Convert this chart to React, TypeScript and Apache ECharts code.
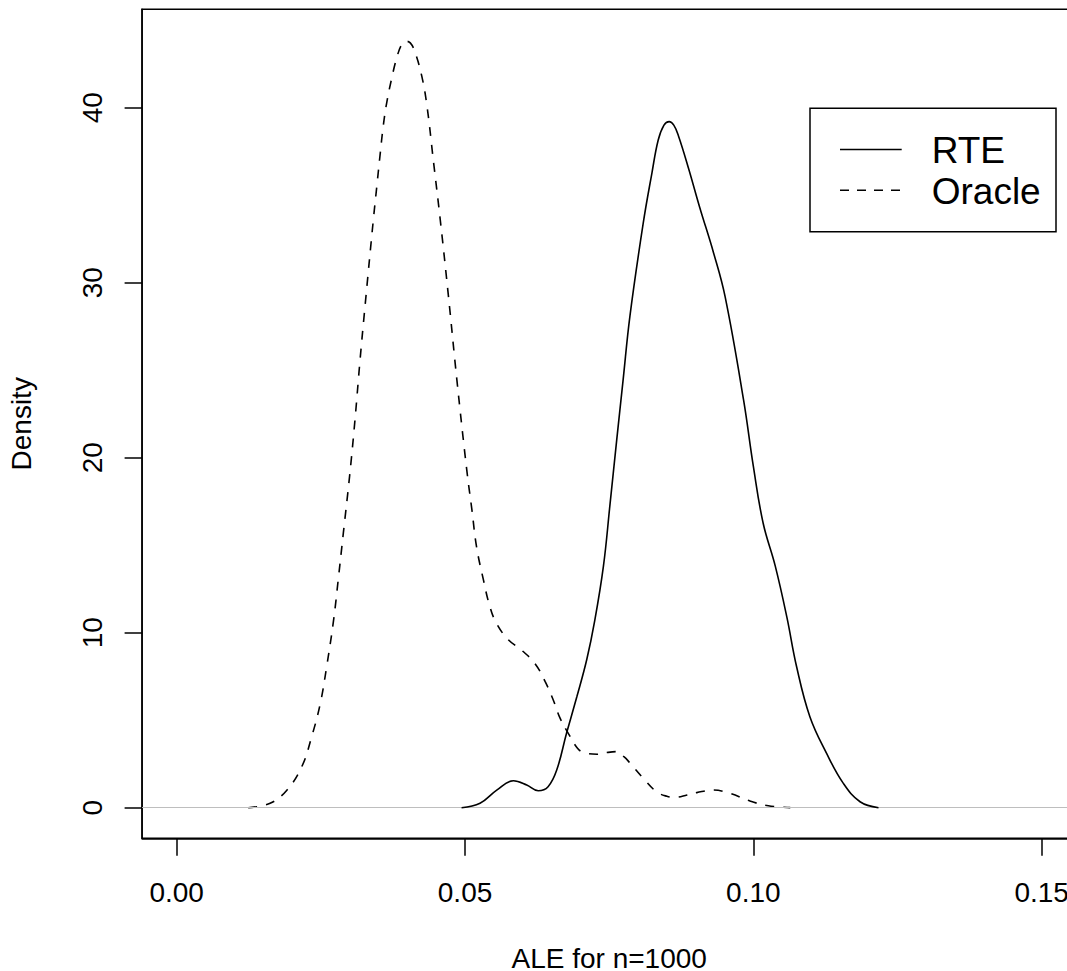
import React, { useEffect, useRef } from "react";
import * as echarts from "echarts";

// ALE values (x) and estimated densities (y)
const oracleX = [
  0.0124, 0.0162, 0.0191, 0.0217, 0.0234, 0.0249, 0.026, 0.0272, 0.028, 0.0289,
  0.03, 0.0309, 0.0318, 0.0327, 0.0341, 0.0347, 0.0353, 0.0358, 0.0364,
  0.0373, 0.0382, 0.039, 0.0397, 0.0405, 0.0413, 0.0425, 0.0434, 0.0445,
  0.0457, 0.0471, 0.0486, 0.0503, 0.0512, 0.052,
  0.0532, 0.0543, 0.0555, 0.0575, 0.0598, 0.0621, 0.0639, 0.0653, 0.0665, 0.0679,
  0.0695, 0.0706, 0.0729, 0.0746, 0.0762, 0.0776, 0.0786, 0.0809, 0.0832, 0.085,
  0.0864, 0.0885, 0.0902, 0.0931, 0.0959, 0.0994, 0.1026, 0.1064,
];
const oracleY = [
  0.0, 0.25, 1.0, 2.35, 4.05, 5.95, 8.05, 10.7, 13.0, 15.7,
  19.0, 22.1, 25.6, 28.8, 33.6, 35.5, 37.4, 38.9, 40.25,
  41.7, 42.9, 43.6, 43.8, 43.7, 43.2, 41.8, 40.1, 37.0,
  33.6, 29.3, 24.4, 19.3, 17.0, 14.9,
  13.0, 11.5, 10.5, 9.6, 9.0, 8.25, 7.2, 6.15, 5.1, 4.25,
  3.4, 3.15, 3.05, 3.15, 3.2, 2.9, 2.55, 1.68, 0.91, 0.65,
  0.59, 0.72, 0.86, 1.01, 0.82, 0.38, 0.11, 0.0,
];

const rteX = [
  0.0494, 0.0526, 0.0555, 0.0584, 0.0607, 0.0627, 0.0644, 0.0659, 0.0676, 0.0694,
  0.0711, 0.0725, 0.074, 0.0751, 0.0763, 0.0774, 0.0786, 0.0809, 0.0824,
  0.0835, 0.0845, 0.0854, 0.0862, 0.087, 0.0887, 0.0907, 0.0931, 0.0951,
  0.0983, 0.1, 0.1017, 0.1038, 0.1058, 0.1075, 0.1098, 0.1127, 0.1156, 0.1185,
  0.1217,
];
const rteY = [
  0.0, 0.25, 1.0, 1.54, 1.3, 0.97, 1.2, 2.15, 4.25, 6.35,
  8.45, 10.7, 13.8, 17.2, 21.0, 24.4, 28.1, 33.4, 36.25,
  38.15, 39.0, 39.2, 39.0, 38.4, 36.6, 34.3, 31.7, 29.2,
  23.3, 19.5, 16.25, 13.8, 10.9, 8.05, 5.2, 3.1, 1.39, 0.34,
  0.0,
];

const xTicks = [0, 0.05, 0.1, 0.15];
const yTicks = [0, 10, 20, 30, 40];
const legendNames = ["RTE", "Oracle"];

const FONT = "'Liberation Sans', Arial, Helvetica, sans-serif";

export default function App() {
  const ref = useRef<HTMLDivElement>(null);

  useEffect(() => {
    document.body.style.margin = "0";
    const chart = echarts.init(ref.current!, null, { renderer: "svg" });

    const oracleData = oracleX.map((x, i) => [x, oracleY[i]]);
    const rteData = rteX.map((x, i) => [x, rteY[i]]);

    const option: any = {
      animation: false,
      backgroundColor: "#ffffff",
      textStyle: { fontFamily: FONT },
      grid: {
        left: 142.1,
        right: -9.3,
        top: 9.3,
        bottom: 132.7,
        show: true,
        borderColor: "#000",
        borderWidth: 1.5,
        backgroundColor: "transparent",
        containLabel: false,
        outerBoundsMode: "none",
      },
      xAxis: {
        type: "value",
        min: -0.006,
        max: 0.156,
        name: "ALE for n=1000",
        nameLocation: "middle",
        nameGap: 106,
        nameTextStyle: { fontSize: 28, color: "#000", fontFamily: FONT },
        axisLine: { show: true, onZero: false, lineStyle: { color: "#000", width: 1.5 } },
        axisTick: {
          show: true,
          length: 17.5,
          customValues: xTicks,
          lineStyle: { color: "#000", width: 1.5 },
        },
        axisLabel: {
          show: true,
          customValues: xTicks,
          margin: 40,
          fontSize: 28,
          color: "#000",
          fontFamily: FONT,
          formatter: (v: number) => v.toFixed(2),
        },
        splitLine: { show: false },
      },
      yAxis: {
        type: "value",
        min: -1.75,
        max: 45.62,
        name: "Density",
        nameLocation: "middle",
        nameGap: 107,
        nameTextStyle: { fontSize: 28, color: "#000", fontFamily: FONT },
        axisLine: { show: true, onZero: false, lineStyle: { color: "#000", width: 1.5 } },
        axisTick: {
          show: true,
          length: 17.5,
          customValues: yTicks,
          lineStyle: { color: "#000", width: 1.5 },
        },
        axisLabel: {
          show: true,
          customValues: yTicks,
          rotate: 90,
          margin: 36,
          fontSize: 28,
          color: "#000",
          fontFamily: FONT,
          formatter: (v: number) => String(v),
        },
        splitLine: { show: false },
      },
      series: [
        {
          name: legendNames[1],
          type: "line",
          data: oracleData,
          symbol: "none",
          smooth: 0.4,
          z: 2,
          lineStyle: { color: "#000", width: 1.6, type: [9, 9] },
          markLine: {
            silent: true,
            symbol: ["none", "none"],
            label: { show: false },
            lineStyle: { color: "#bebebe", width: 1, type: "solid" },
            emphasis: { disabled: true },
            data: [{ yAxis: 0 }],
          },
        },
        {
          name: legendNames[0],
          type: "line",
          data: rteData,
          symbol: "none",
          smooth: 0.4,
          z: 10,
          lineStyle: { color: "#000", width: 1.6, type: "solid" },
        },
      ],
      graphic: [
        {
          type: "rect",
          shape: { x: 810, y: 108.3, width: 246, height: 123.4 },
          style: { fill: "none", stroke: "#000", lineWidth: 1.5 },
          z: 20,
        },
        {
          type: "line",
          shape: { x1: 840, y1: 149.5, x2: 901.7, y2: 149.5 },
          style: { stroke: "#000", lineWidth: 1.6 },
          z: 20,
        },
        {
          type: "line",
          shape: { x1: 840, y1: 190.3, x2: 901.7, y2: 190.3 },
          style: { stroke: "#000", lineWidth: 1.6, lineDash: [9, 8] },
          z: 20,
        },
        {
          type: "text",
          x: 931.7,
          y: 150,
          style: {
            text: legendNames[0],
            fontSize: 37,
            fontFamily: FONT,
            fill: "#000",
            verticalAlign: "middle",
            align: "left",
          },
          z: 20,
        },
        {
          type: "text",
          x: 931.7,
          y: 191,
          style: {
            text: legendNames[1],
            fontSize: 37,
            fontFamily: FONT,
            fill: "#000",
            verticalAlign: "middle",
            align: "left",
          },
          z: 20,
        },
      ],
    };

    chart.setOption(option);
    return () => chart.dispose();
  }, []);

  return (
    <div
      ref={ref}
      style={{ position: "absolute", left: 0, top: 0, width: 1067, height: 971 }}
    />
  );
}
